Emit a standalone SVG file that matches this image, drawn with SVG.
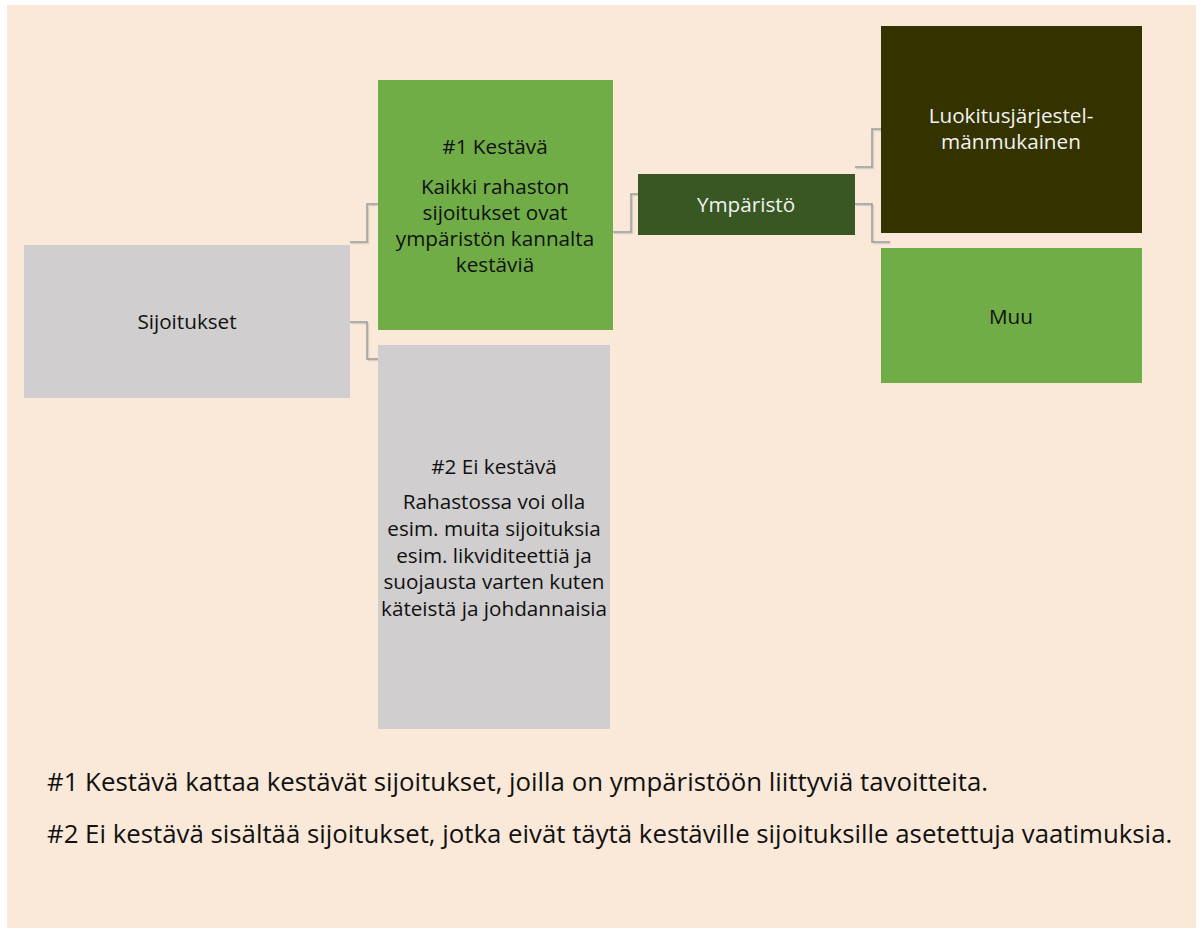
<svg xmlns="http://www.w3.org/2000/svg" width="1201" height="928" viewBox="0 0 1201 928">
<style>
text{font-family:"Open Sans","Noto Sans",sans-serif;font-size:20.7px;text-anchor:middle;fill:#111}
.w{fill:#f2f2f2}
.note{font-size:25.8px;text-anchor:start}
.c{fill:none;stroke:#9b9b9b;stroke-width:1.5}
.cs{fill:none;stroke:#d8cfc4;stroke-width:1.5}
</style>
<rect x="0" y="0" width="1201" height="928" fill="#ffffff"/>
<rect x="7" y="5" width="1189" height="923" fill="#fae9d8"/>
<g id="connectors">
<path class="cs" d="M351 243.5H368.5V205.5H379"/>
<path class="cs" d="M351 323.5H368.5V360.5H379"/>
<path class="cs" d="M614 233.5H632.5V195.5H639"/>
<path class="cs" d="M856 168.5H873.5V130.5H882"/>
<path class="cs" d="M856 205.5H873.5V243.5H891"/>
<path class="c" d="M350 242H367V204H378"/>
<path class="c" d="M350 322H367V359H378"/>
<path class="c" d="M613 232H631V194H638"/>
<path class="c" d="M855 167H872V129H881"/>
<path class="c" d="M855 204H872V242H890"/>
</g>
<g id="sijoitukset">
<rect x="24" y="245" width="326" height="153" fill="#d0cece"/>
<text x="187" y="329">Sijoitukset</text>
</g>
<g id="kestava">
<rect x="378" y="80" width="235" height="250" fill="#70ad47"/>
<text x="495" y="154">#1 Kestävä</text>
<text x="495" y="194">Kaikki rahaston</text>
<text x="495" y="220">sijoitukset ovat</text>
<text x="495" y="246">ympäristön kannalta</text>
<text x="495" y="272">kestäviä</text>
</g>
<g id="ei-kestava">
<rect x="378" y="345" width="232" height="384" fill="#d0cece"/>
<text x="494" y="474">#2 Ei kestävä</text>
<text x="494" y="509">Rahastossa voi olla</text>
<text x="494" y="536">esim. muita sijoituksia</text>
<text x="494" y="563">esim. likviditeettiä ja</text>
<text x="494" y="589">suojausta varten kuten</text>
<text x="494" y="616">käteistä ja johdannaisia</text>
</g>
<g id="ymparisto">
<rect x="638" y="174" width="217" height="61" fill="#385723"/>
<text class="w" x="746" y="212">Ympäristö</text>
</g>
<g id="luokitus">
<rect x="881" y="26" width="261" height="207" fill="#343300"/>
<text class="w" x="1011" y="123">Luokitusjärjestel-</text>
<text class="w" x="1011" y="149">mänmukainen</text>
</g>
<g id="muu">
<rect x="881" y="248" width="261" height="135" fill="#70ad47"/>
<text x="1011" y="324">Muu</text>
</g>
<g id="notes">
<text class="note" x="47" y="791">#1 Kestävä kattaa kestävät sijoitukset, joilla on ympäristöön liittyviä tavoitteita.</text>
<text class="note" x="47" y="843">#2 Ei kestävä sisältää sijoitukset, jotka eivät täytä kestäville sijoituksille asetettuja vaatimuksia.</text>
</g>
</svg>
